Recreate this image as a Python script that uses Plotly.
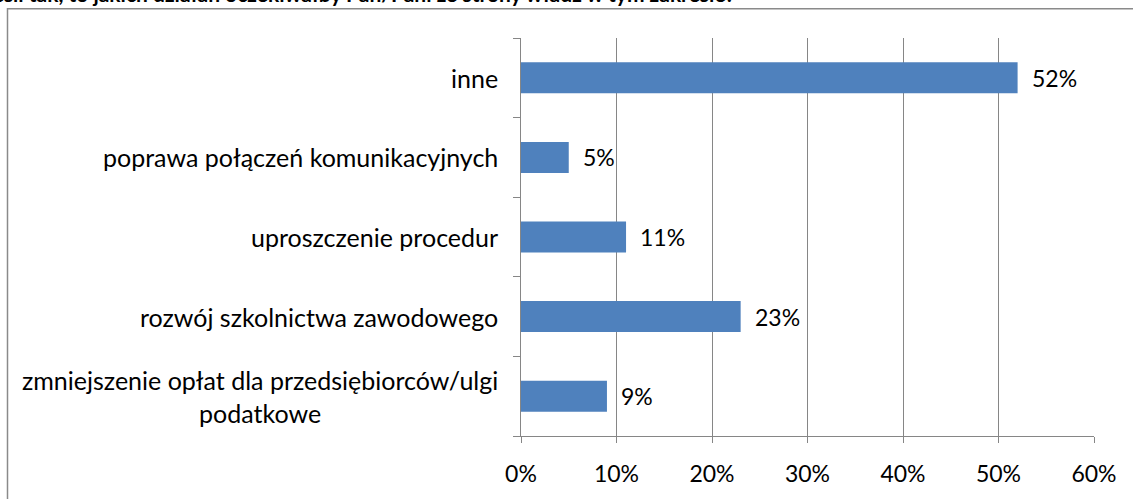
import plotly.graph_objects as go

categories = [
    "zmniejszenie opłat dla przedsiębiorców/ulgi<br>podatkowe",
    "rozwój szkolnictwa zawodowego",
    "uproszczenie procedur",
    "poprawa połączeń komunikacyjnych",
    "inne",
]
values = [0.09, 0.23, 0.11, 0.05, 0.52]
value_labels = ["9%", "23%", "11%", "5%", "52%"]
x_ticks = [0, 0.1, 0.2, 0.3, 0.4, 0.5, 0.6]
title_text = "Jeśli tak, to jakich działań oczekiwałby Pan/Pani ze strony władz w tym zakresie?"

W, H = 1133, 499
ML, MR, MT, MB = 521, 39, 38, 58
PW, PH = W - ML - MR, H - MT - MB

def px_x(p):
    return (p - ML) / PW

def px_y(p):
    return (H - MB - p) / PH

FONT = "Lato"
AX = "#868686"

fig = go.Figure(go.Bar(
    x=values, y=categories, orientation="h",
    marker=dict(color="#4F81BD", line=dict(width=0)),
    hoverinfo="skip",
))

annotations = []
for c in categories:
    annotations.append(dict(
        x=0, xref="paper", y=c, yref="y", text=c, showarrow=False,
        xanchor="right", yanchor="middle", align="center", xshift=-21,
        font=dict(family=FONT, size=25, color="#000000"),
    ))
for v, lab, c in zip(values, value_labels, categories):
    annotations.append(dict(
        x=v, xref="x", y=c, yref="y", text=lab, showarrow=False,
        xanchor="left", yanchor="middle", xshift=12,
        font=dict(family=FONT, size=23, color="#000000"),
    ))
annotations.append(dict(
    x=px_x(737), xref="paper", y=px_y(-7), yref="paper", text="<b>" + title_text + "</b>",
    showarrow=False, xanchor="right", yanchor="middle",
    font=dict(family=FONT, size=21, color="#000000"),
))

fig.update_layout(
    width=W, height=H,
    margin=dict(l=ML, r=MR, t=MT, b=MB, pad=0),
    paper_bgcolor="white", plot_bgcolor="white",
    bargap=0.61,
    showlegend=False,
    annotations=annotations,
    shapes=[dict(
        type="rect", xref="paper", yref="paper",
        x0=px_x(7.5), x1=px_x(1145), y0=px_y(515), y1=px_y(8.5),
        line=dict(color="#8a8a8a", width=1.5), fillcolor="rgba(0,0,0,0)", layer="below",
    )],
    xaxis=dict(
        range=[0, 0.6], tickvals=x_ticks, tickformat=".0%",
        showgrid=True, gridcolor=AX, gridwidth=1.2,
        showline=True, linecolor=AX, linewidth=1.2,
        ticks="outside", ticklen=6, tickcolor=AX,
        tickfont=dict(family=FONT, size=23, color="#000000"),
        ticklabelstandoff=11,
        zeroline=False, fixedrange=True,
    ),
    yaxis=dict(
        type="category", categoryorder="array", categoryarray=categories,
        showticklabels=False, showgrid=False,
        showline=True, linecolor=AX, linewidth=1.2,
        ticks="outside", ticklen=7, tickcolor=AX, tickson="boundaries",
        zeroline=False, fixedrange=True,
    ),
)

fig.write_html("out.html", config={"displayModeBar": False},
               post_script="document.body.style.margin='0';")
